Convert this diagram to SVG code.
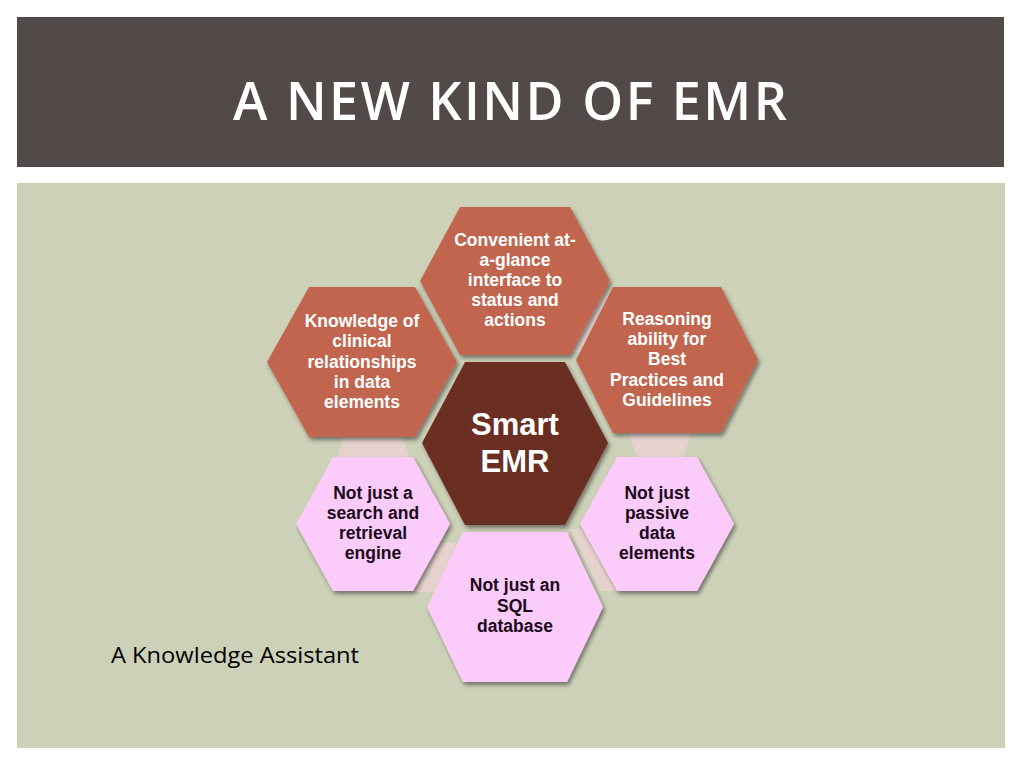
<svg xmlns="http://www.w3.org/2000/svg" width="1024" height="768" viewBox="0 0 1024 768">
<defs>
<filter id="sh" x="-10%" y="-10%" width="125%" height="130%">
<feDropShadow dx="2" dy="3" stdDeviation="2" flood-color="#000" flood-opacity="0.45"/>
</filter>
<style>
.rust{fill:#C1654F;filter:url(#sh)}
.pink{fill:#FBCBF9;filter:url(#sh)}
.core{fill:#6B2D20;filter:url(#sh)}
.conn{fill:#E5D2CC}
.wt{font-family:"Liberation Sans",Arial,sans-serif;font-weight:bold;font-size:17.5px;fill:#FFFFFF;text-anchor:middle}
.bt{font-family:"Liberation Sans",Arial,sans-serif;font-weight:bold;font-size:17.5px;fill:#1A0A1A;text-anchor:middle}
</style>
</defs>
<rect width="1024" height="768" fill="#FFFFFF"/>
<rect x="17" y="17" width="987" height="150" fill="#524A48"/>
<text x="510" y="120" font-family="'Open Sans','Liberation Sans',sans-serif" font-size="52" font-weight="600" fill="#FFFFFF" text-anchor="middle" textLength="554" lengthAdjust="spacing">A NEW KIND OF EMR</text>
<rect x="17" y="183" width="988" height="565" fill="#CDD1B8"/>

<g id="connectors">
<polygon class="conn" points="598,296 612,296 581,352 568,352"/>
<polygon class="conn" points="627,431 692,431 683,459 638,459"/>
<polygon class="conn" points="343,436 402,436 410,459 337,459"/>
<polygon class="conn" points="438,543 458,543 437,592 414,592"/>
<polygon class="conn" points="570,529 586,529 616,591 600,591"/>
</g>

<g id="n-top">
<polygon class="rust" points="420,281 460,207 570,207 610,281 570,355 460,355"/>
<text class="wt"><tspan x="515" y="246">Convenient at-</tspan><tspan x="515" y="266">a-glance</tspan><tspan x="515" y="286">interface to</tspan><tspan x="515" y="306">status and</tspan><tspan x="515" y="326">actions</tspan></text>
</g>

<g id="n-upper-left">
<polygon class="rust" points="267,362 309,287 415,287 457,362 415,437 309,437"/>
<text class="wt"><tspan x="362" y="327">Knowledge of</tspan><tspan x="362" y="347">clinical</tspan><tspan x="362" y="368">relationships</tspan><tspan x="362" y="388">in data</tspan><tspan x="362" y="408">elements</tspan></text>
</g>

<g id="n-upper-right">
<polygon class="rust" points="576,360 613,287 721,287 758,360 721,433 613,433"/>
<text class="wt"><tspan x="667" y="325">Reasoning</tspan><tspan x="667" y="345">ability for</tspan><tspan x="667" y="365">Best</tspan><tspan x="667" y="386">Practices and</tspan><tspan x="667" y="406">Guidelines</tspan></text>
</g>

<g id="n-lower-left">
<polygon class="pink" points="296,524 333,457 413,457 450,524 413,591 333,591"/>
<text class="bt"><tspan x="373" y="499">Not just a</tspan><tspan x="373" y="519">search and</tspan><tspan x="373" y="539">retrieval</tspan><tspan x="373" y="559">engine</tspan></text>
</g>

<g id="n-lower-right">
<polygon class="pink" points="580,524 617,457 697,457 734,524 697,591 617,591"/>
<text class="bt"><tspan x="657" y="499">Not just</tspan><tspan x="657" y="519">passive</tspan><tspan x="657" y="539">data</tspan><tspan x="657" y="559">elements</tspan></text>
</g>

<g id="n-bottom">
<polygon class="pink" points="427,607 463,532 567,532 603,607 567,682 463,682"/>
<text class="bt"><tspan x="515" y="591">Not just an</tspan><tspan x="515" y="612">SQL</tspan><tspan x="515" y="632">database</tspan></text>
</g>

<g id="n-center">
<polygon class="core" points="422,443 465,362 565,362 608,443 565,525 465,525"/>
<text font-family="'Liberation Sans',Arial,sans-serif" font-size="31" font-weight="bold" fill="#FFFFFF" text-anchor="middle"><tspan x="515" y="435">Smart</tspan><tspan x="515" y="472">EMR</tspan></text>
</g>

<text x="111" y="663" font-family="'Open Sans','Liberation Sans',sans-serif" font-size="21" font-weight="500" fill="#000000" textLength="248" lengthAdjust="spacingAndGlyphs">A Knowledge Assistant</text>
</svg>
